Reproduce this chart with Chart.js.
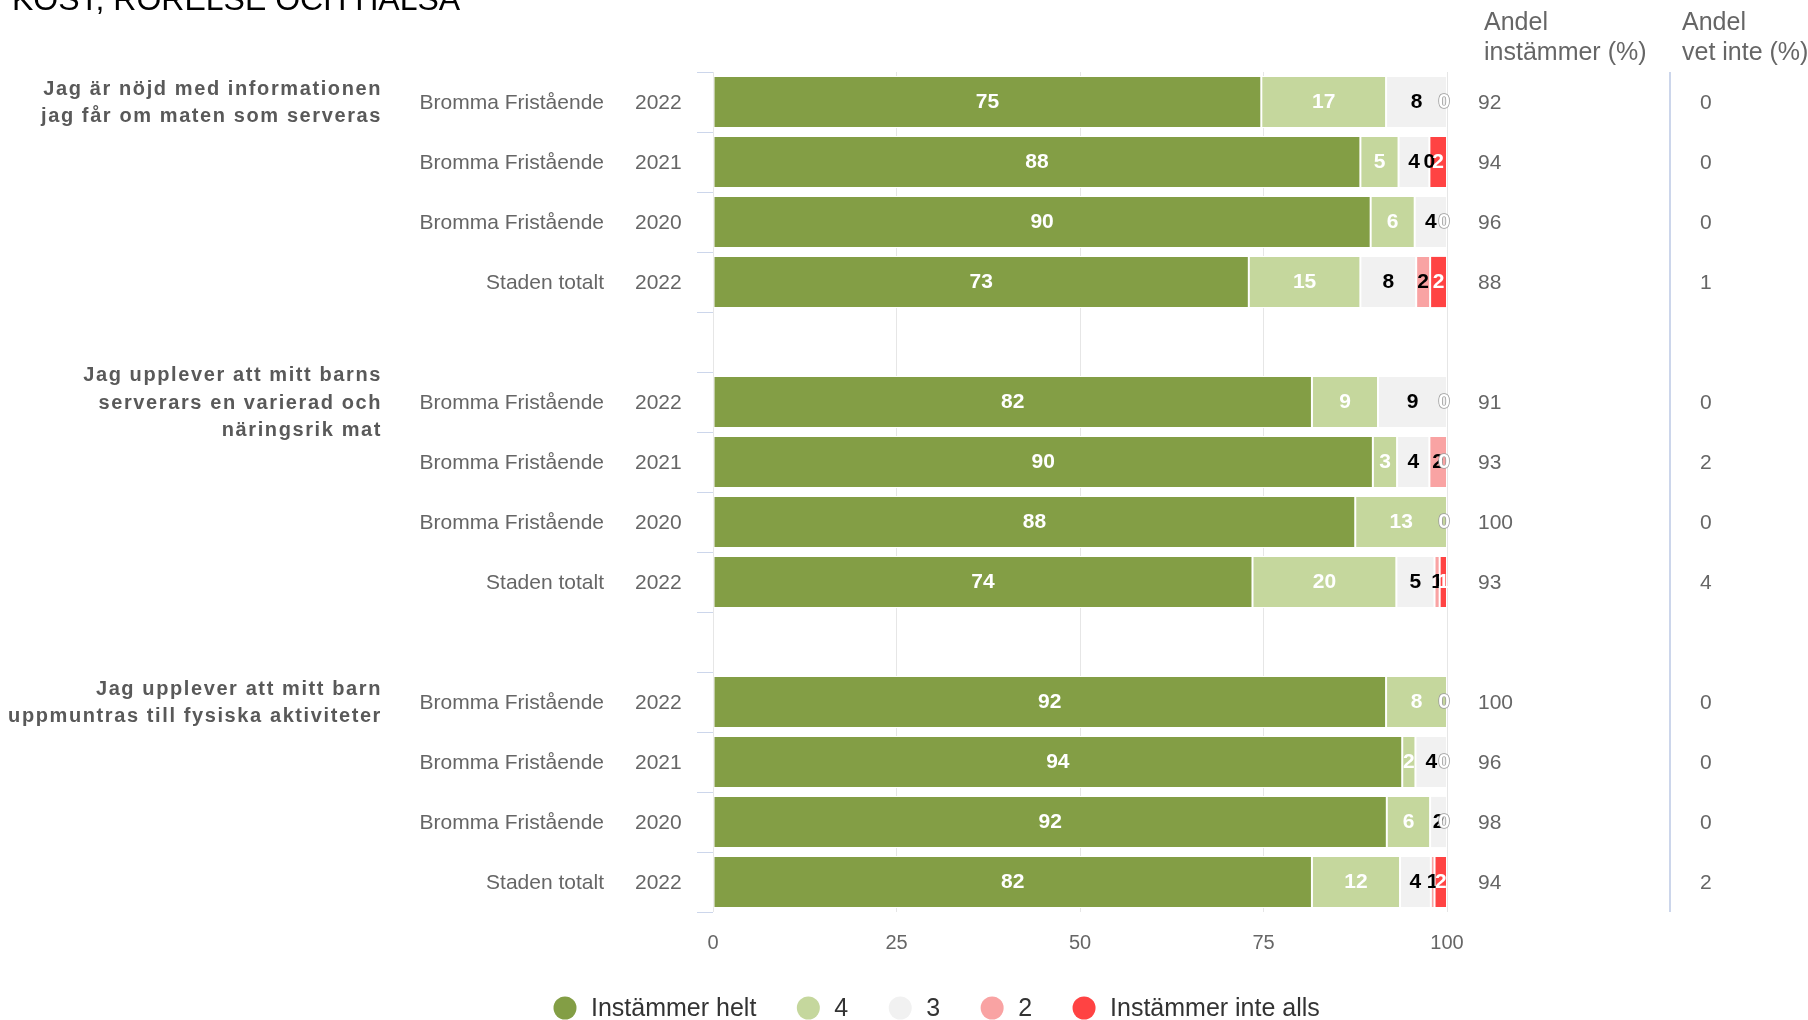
<!DOCTYPE html>
<html>
<head>
<meta charset="utf-8">
<script src="https://cdn.jsdelivr.net/npm/chart.js@4.4.1/dist/chart.umd.min.js"></script>
<style>
  html, body { margin: 0; padding: 0; background: #fff; }
  #wrap { width: 1808px; height: 1020px; position: relative; }
</style>
</head>
<body>
<div id="wrap"><canvas id="chart" width="1808" height="1020"></canvas></div>
<script>
// ---- data ----
const title = 'KOST, RÖRELSE OCH HÄLSA';
const questions = [
  ['Jag är nöjd med informationen', 'jag får om maten som serveras'],
  ['Jag upplever att mitt barns', 'serverars en varierad och', 'näringsrik mat'],
  ['Jag upplever att mitt barn', 'uppmuntras till fysiska aktiviteter']
];
const units = ['Bromma Fristående', 'Bromma Fristående', 'Bromma Fristående', 'Staden totalt'];
const years = ['2022', '2021', '2020', '2022'];

const seriesNames = ['Instämmer helt', '4', '3', '2', 'Instämmer inte alls'];
const seriesColors = ['#839e45', '#c5d79d', '#f1f1f1', '#f9a3a3', '#ff4343'];
const labelColors = ['#ffffff', '#ffffff', '#000000', '#000000', '#ffffff'];

// one value per row (3 questions x 4 rows), percent
const helt     = [74.7, 88.2, 89.6, 73.0,  81.6, 89.9, 87.5, 73.5,  91.7, 93.9, 91.8, 81.6];
const fyra     = [17.0,  5.2,  6.0, 15.2,   9.0,  3.3, 12.5, 19.6,   8.3,  1.8,  5.9, 12.0];
const tre      = [ 8.3,  4.2,  4.4,  7.6,   9.4,  4.4,  0.0,  5.2,   0.0,  4.3,  2.3,  4.2];
const tva      = [ 0.0,  0.0,  0.0,  1.9,   0.0,  2.4,  0.0,  0.7,   0.0,  0.0,  0.0,  0.5];
const inteAlls = [ 0.0,  2.4,  0.0,  2.3,   0.0,  0.0,  0.0,  1.0,   0.0,  0.0,  0.0,  1.7];

const andelInstammer = [92, 94, 96, 88,  91, 93, 100, 93,  100, 96, 98, 94];
const andelVetInte   = [ 0,  0,  0,  1,   0,  2,   0,  4,    0,  0,  0,  2];
const xTicks = [0, 25, 50, 75, 100];

// ---- build slots: 4 rows per question, one empty slot between groups ----
const ROWS = units.length;
const slotOf = i => Math.floor(i / ROWS) * (ROWS + 1) + (i % ROWS);
const nSlots = questions.length * (ROWS + 1) - 1;

function toSlots(arr) {
  const out = new Array(nSlots).fill(null);
  arr.forEach((v, i) => { out[slotOf(i)] = v; });
  return out;
}
const slotLabels = new Array(nSlots).fill('');
helt.forEach((v, i) => { slotLabels[slotOf(i)] = units[i % ROWS] + ' ' + years[i % ROWS]; });

const seriesValues = [helt, fyra, tre, tva, inteAlls];
const FONT = '"Liberation Sans", Arial, sans-serif';

// ---- labels inside bars ----
const barLabels = {
  id: 'barLabels',
  afterDatasetsDraw(chart) {
    const ctx = chart.ctx;
    const area = chart.chartArea;
    ctx.save();
    ctx.font = 'bold 21px ' + FONT;
    ctx.textAlign = 'center';
    ctx.textBaseline = 'middle';
    chart.data.datasets.forEach((ds, di) => {
      const meta = chart.getDatasetMeta(di);
      meta.data.forEach((bar, j) => {
        const v = ds.data[j];
        if (v === null || v === undefined) return;
        let cx = (bar.x + bar.base) / 2;
        cx = Math.min(cx, area.right - 3);
        const txt = String(Math.round(v));
        if (v === 0 && labelColors[di] === '#ffffff') {
          ctx.strokeStyle = '#9a9a9a';
          ctx.lineWidth = 1.5;
          ctx.strokeText(txt, cx, bar.y);
        }
        ctx.fillStyle = labelColors[di];
        ctx.fillText(txt, cx, bar.y);
      });
    });
    ctx.restore();
  }
};

// ---- texts around the plot ----
const sideTexts = {
  id: 'sideTexts',
  afterDraw(chart) {
    const ctx = chart.ctx;
    const y = chart.scales.y;
    const area = chart.chartArea;
    ctx.save();

    // title (cut at the top like the original)
    ctx.fillStyle = '#000';
    ctx.font = '32px ' + FONT;
    ctx.textAlign = 'left';
    ctx.textBaseline = 'alphabetic';
    ctx.fillText(title, 12, 10);

    // column headers
    ctx.fillStyle = '#666';
    ctx.font = '25px ' + FONT;
    ctx.textBaseline = 'middle';
    ctx.fillText('Andel', 1484, 23);
    ctx.fillText('instämmer (%)', 1484, 53);
    ctx.fillText('Andel', 1682, 23);
    ctx.fillText('vet inte (%)', 1682, 53);

    // divider between the two columns
    ctx.strokeStyle = '#ccd6eb';
    ctx.lineWidth = 2;
    ctx.beginPath();
    ctx.moveTo(1670, area.top);
    ctx.lineTo(1670, area.bottom);
    ctx.stroke();

    // row labels + right columns
    ctx.font = '21px ' + FONT;
    helt.forEach((v, i) => {
      const py = y.getPixelForValue(slotOf(i)) + 1;
      ctx.fillStyle = '#666';
      ctx.textAlign = 'right';
      ctx.fillText(units[i % ROWS], 604, py);
      ctx.textAlign = 'left';
      ctx.fillText(years[i % ROWS], 635, py);
      ctx.fillText(String(andelInstammer[i]), 1478, py);
      ctx.fillText(String(andelVetInte[i]), 1700, py);
    });

    // question labels, centred on the first row of each group
    ctx.font = 'bold 20px ' + FONT;
    ctx.fillStyle = '#595959';
    ctx.textAlign = 'right';
    try { ctx.letterSpacing = '1.6px'; } catch (e) { /* ignore */ }
    questions.forEach((lines, q) => {
      const cy = y.getPixelForValue(slotOf(q * ROWS)) + 1;
      const lh = 27.5;
      const y0 = cy - (lines.length - 1) * lh / 2;
      lines.forEach((ln, k) => ctx.fillText(ln, 382, y0 + k * lh));
    });
    try { ctx.letterSpacing = '0px'; } catch (e) { /* ignore */ }

    // legend
    ctx.font = '25px ' + FONT;
    ctx.textAlign = 'left';
    let cx = 565;
    const ly = 1008;
    seriesNames.forEach((name, k) => {
      ctx.fillStyle = seriesColors[k];
      ctx.beginPath();
      ctx.arc(cx, ly, 11.5, 0, Math.PI * 2);
      ctx.fill();
      ctx.fillStyle = '#333';
      ctx.fillText(name, cx + 26, ly + 1);
      cx += 26 + ctx.measureText(name).width + 52;
    });

    ctx.restore();
  }
};

const ctx = document.getElementById('chart').getContext('2d');
new Chart(ctx, {
  type: 'bar',
  data: {
    labels: slotLabels,
    datasets: seriesNames.map((name, k) => ({
      label: name,
      data: toSlots(seriesValues[k]),
      backgroundColor: seriesColors[k],
      borderColor: '#ffffff',
      borderWidth: 1,
      borderSkipped: false,
      barPercentage: 0.87,
      categoryPercentage: 1
    }))
  },
  options: {
    indexAxis: 'y',
    responsive: false,
    animation: false,
    layout: { padding: { top: 72, right: 361, left: 0, bottom: 0 } },
    plugins: {
      legend: { display: false },
      tooltip: { enabled: false }
    },
    scales: {
      x: {
        stacked: true,
        min: 0,
        max: 100,
        afterBuildTicks: s => { s.ticks = xTicks.map(v => ({ value: v })); },
        afterFit: s => { s.height = 108; },
        grid: { color: '#e6e6e6', lineWidth: 1, drawTicks: false },
        border: { display: false },
        ticks: { color: '#666', font: { family: FONT, size: 20 }, padding: 19 }
      },
      y: {
        stacked: true,
        afterFit: s => { s.width = 713; },
        grid: { display: true, drawOnChartArea: false, drawTicks: true, tickLength: 16, color: '#ccd6eb', offset: true },
        border: { display: false },
        ticks: { display: false }
      }
    }
  },
  plugins: [barLabels, sideTexts]
});
</script>
</body>
</html>
